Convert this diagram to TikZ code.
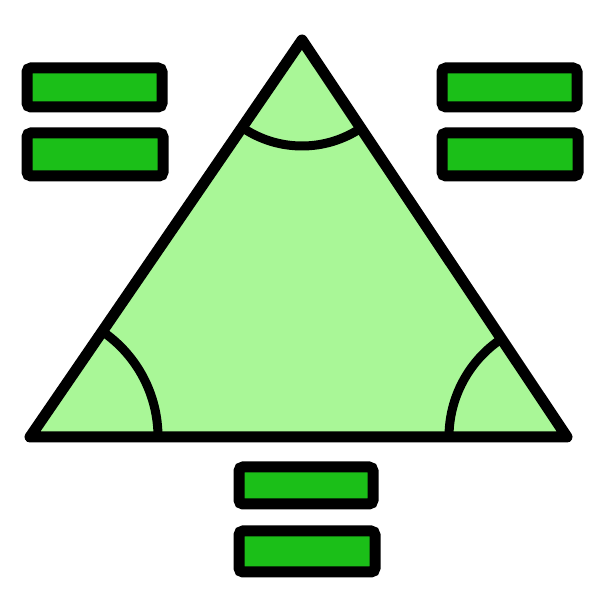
\documentclass[tikz,border=0pt]{standalone}
\usetikzlibrary{calc}
\definecolor{trifill}{HTML}{A9F797}
\definecolor{barfill}{HTML}{1BBF18}
\tikzset{
  tri/.style={draw=black, fill=trifill, line width=11pt, line join=round},
  anglearc/.style={draw=black, line width=9pt, line cap=round},
  bar/.style={draw=black, fill=barfill, line width=11pt, rounded corners=4pt}
}
\begin{document}
\begin{tikzpicture}[x=1pt, y=1pt]
\useasboundingbox (0,0) rectangle (600,600);
\coordinate (apex) at (302,560);
\coordinate (bl) at (30,163);
\coordinate (br) at (567,163);
\draw[tri] (apex) -- (bl) -- (br) -- cycle;
\draw[anglearc] ($(apex)+(236:106)$) arc[start angle=236, end angle=304, radius=106];
\draw[anglearc] ($(bl)+(0:128)$) arc[start angle=0, end angle=55.6, radius=128];
\draw[anglearc] ($(br)+(123.7:118)$) arc[start angle=123.7, end angle=180, radius=118];
% top-left bars
\draw[bar] (27,532) rectangle (162,493);
\draw[bar] (27,467) rectangle (163,424);
% top-right bars
\draw[bar] (442,532) rectangle (577,493);
\draw[bar] (442,467) rectangle (578,424);
% bottom bars
\draw[bar] (239,133) rectangle (373,96);
\draw[bar] (239,69) rectangle (375,28);
\end{tikzpicture}
\end{document}
